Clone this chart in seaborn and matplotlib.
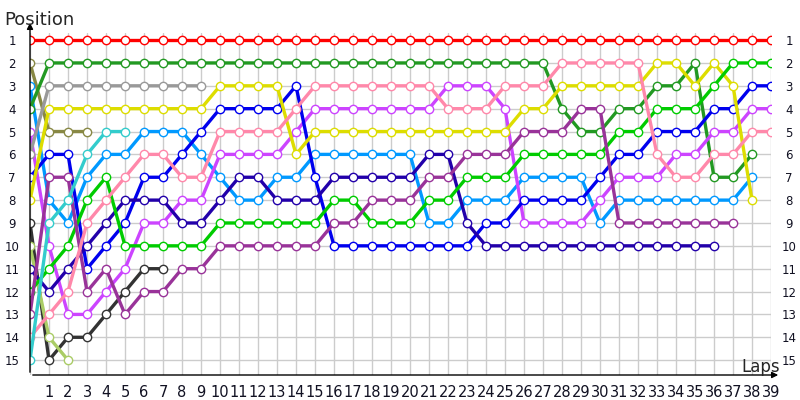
import matplotlib
matplotlib.use("Agg")
import matplotlib.pyplot as plt
import seaborn as sns
import pandas as pd

# ---- data: position per lap (index 0 = grid) ----
drivers = ["red", "olive", "lightblue", "forest", "violet", "gray", "blue", "yellow",
           "black", "yellowgreen", "navy", "lime", "purple", "pink", "cyan"]
colors = ["#ff0000", "#888844", "#0099ff", "#229922", "#cc44ff", "#999999", "#0000ee", "#dddd00",
          "#333333", "#aacc66", "#2200aa", "#00cc00", "#993399", "#ff88aa", "#33cccc"]

red = [1] * 40
olive = [2, 5, 5, 5]
lightblue = [3, 8, 9, 7, 6, 6, 5, 5, 5, 6, 7, 8, 8, 7, 7, 6, 6, 6, 6, 6, 6, 9, 9, 8, 8, 8,
             7, 7, 7, 7, 9, 8, 8, 8, 8, 8, 8, 8, 7]
forest = [4] + [2] * 27 + [4, 5, 5, 4, 4, 3, 3, 2, 7, 7, 6]
violet = [5, 10, 13, 13, 12, 11, 9, 9, 8, 8, 6, 6, 6, 6, 5, 4, 4, 4, 4, 4, 4, 4, 3, 3, 3, 4,
          9, 9, 9, 9, 8, 7, 7, 7, 6, 6, 5, 5, 4, 4]
gray = [6, 3, 3, 3, 3, 3, 3, 3, 3, 3]
blue = [7, 6, 6, 11, 10, 9, 7, 7, 6, 5, 4, 4, 4, 4, 3, 7, 10, 10, 10, 10, 10, 10, 10, 10, 9, 9,
        8, 8, 8, 8, 7, 6, 6, 5, 5, 5, 4, 4, 3, 3]
yellow = [8, 4, 4, 4, 4, 4, 4, 4, 4, 4, 3, 3, 3, 3, 6, 5, 5, 5, 5, 5, 5, 5, 5, 5, 5, 5,
          4, 4, 3, 3, 3, 3, 3, 2, 2, 3, 2, 3, 8]
black = [9, 15, 14, 14, 13, 12, 11, 11]
yellowgreen = [10, 14, 15]
navy = [11, 12, 11, 10, 9, 8, 8, 8, 9, 9, 8, 7, 7, 8, 8, 8, 7, 7, 7, 7, 7, 6, 6, 9,
        10, 10, 10, 10, 10, 10, 10, 10, 10, 10, 10, 10, 10]
lime = [12, 11, 10, 8, 7, 10, 10, 10, 10, 10, 9, 9, 9, 9, 9, 9, 8, 8, 9, 9, 9, 8, 8, 7, 7, 7,
        6, 6, 6, 6, 6, 5, 5, 4, 4, 4, 3, 2, 2, 2]
purple = [13, 7, 7, 12, 11, 13, 12, 12, 11, 11, 10, 10, 10, 10, 10, 10, 9, 9, 8, 8, 8, 7, 7,
          6, 6, 6, 5, 5, 5, 4, 4, 9, 9, 9, 9, 9, 9, 9]
pink = [14, 13, 12, 9, 8, 7, 6, 6, 7, 7, 5, 5, 5, 5, 4, 3, 3, 3, 3, 3, 3, 3, 4, 4, 4, 3,
        3, 3, 2, 2, 2, 2, 2, 6, 7, 7, 6, 6, 5, 5]
cyan = [15, 9, 8, 6, 5, 5]

series = [red, olive, lightblue, forest, violet, gray, blue, yellow,
          black, yellowgreen, navy, lime, purple, pink, cyan]

positions = list(range(1, 16))
laps = list(range(0, 40))
lap_labels = [""] + [str(i) for i in range(1, 40)]

rows = []
for name, vals in zip(drivers, series):
    for lap, p in enumerate(vals):
        rows.append({"driver": name, "lap": lap, "pos": p})
df = pd.DataFrame(rows)

sns.set_theme(style="white")
plt.rcParams["font.family"] = ["DejaVu Sans"]

fig = plt.figure(figsize=(8, 4), dpi=100)
ax = fig.add_axes([30 / 800, 1 - 375 / 400, (771 - 30) / 800, (375 - 33) / 400])

sns.lineplot(data=df, x="lap", y="pos", hue="driver", hue_order=drivers,
             palette=dict(zip(drivers, colors)), marker="o", markersize=6,
             linewidth=2.4, sort=False, estimator=None, legend=False, ax=ax)
for ln in ax.lines:
    c = ln.get_color()
    ln.set_markerfacecolor("white")
    ln.set_markeredgecolor(c)
    ln.set_markeredgewidth(1.0)

ax.set_xlim(0, 39)
ax.set_ylim(15.65, 0.69)
ax.set_xticks(laps)
ax.set_xticklabels(lap_labels)
ax.set_yticks(positions)
ax.set_yticklabels([str(p) for p in positions])
ax.tick_params(axis="x", length=0, pad=7, labelsize=10.5, labelcolor="#111122")
ax.tick_params(axis="y", length=0, labelsize=8.5, labelcolor="#111122",
               left=True, right=True, labelleft=True, labelright=True)
for t in ax.get_yticklabels():
    t.set_horizontalalignment("center")
ax.yaxis.set_tick_params(which="major", pad=13)
ax.grid(True, color="#cccccc", linewidth=1)
ax.set_axisbelow(True)
for s in ax.spines.values():
    s.set_visible(False)
ax.set_xlabel("")
ax.set_ylabel("")

# axis lines with arrows
ax.annotate("", xy=(30, 400 - 20), xytext=(30, 25), xycoords="figure pixels",
            textcoords="figure pixels",
            arrowprops=dict(arrowstyle="-|>", color="black", lw=1, mutation_scale=9))
ax.annotate("", xy=(781, 25), xytext=(30, 25), xycoords="figure pixels",
            textcoords="figure pixels",
            arrowprops=dict(arrowstyle="-|>", color="black", lw=1, mutation_scale=9))

fig.text(4 / 800, 1 - 25 / 400, "Position", fontsize=13, va="baseline", ha="left")
fig.text(741 / 800, 1 - 372 / 400, "Laps", fontsize=12, va="baseline", ha="left")

fig.savefig("out.png", dpi=100)
